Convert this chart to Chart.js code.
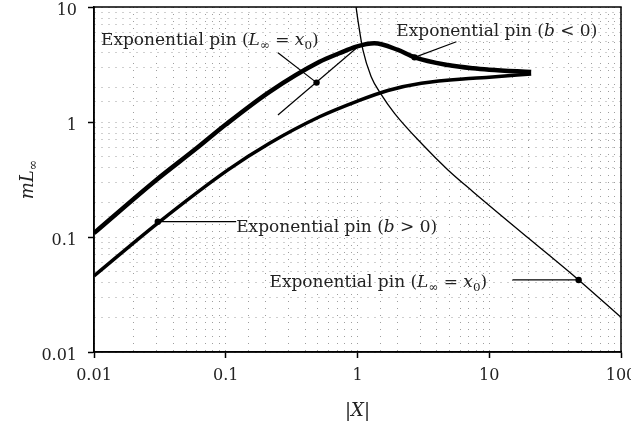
<!DOCTYPE html>
<html>
<head>
<meta charset="utf-8">
<script src="https://cdn.jsdelivr.net/npm/chart.js@4.4.1/dist/chart.umd.min.js"></script>
<style>
  html, body { margin: 0; padding: 0; background: #fff; }
  #wrap { width: 631px; height: 423px; }
</style>
</head>
<body>
<div id="wrap"><canvas id="chart"></canvas></div>
<script>
// upper branch (exponential pin, L_inf = x0 then b < 0)
const upperX = [0.01, 0.0297, 0.06, 0.1, 0.215, 0.515, 0.727, 0.98, 1.34, 2.03, 2.71, 4.86, 7.52, 10, 20.8];
const upperY = [0.108, 0.313, 0.59, 0.95, 1.83, 3.34, 3.96, 4.52, 4.83, 4.23, 3.65, 3.13, 2.93, 2.85, 2.72];

// lower branch (exponential pin, b > 0)
const lowerX = [0.01, 0.0305, 0.104, 0.215, 0.515, 1.0, 1.7, 3.05, 7.52, 10, 20.8];
const lowerY = [0.0458, 0.132, 0.383, 0.653, 1.11, 1.52, 1.88, 2.17, 2.40, 2.45, 2.62];

// thin curve (exponential pin, L_inf = x0, large |X|)
const thinX = [0.975, 1.007, 1.099, 1.27, 1.52, 1.91, 3.05, 4.86, 7.52, 20, 47.7, 100];
const thinY = [10, 7.7, 4.23, 2.48, 1.72, 1.19, 0.653, 0.383, 0.248, 0.097, 0.0423, 0.020];

// straight segment through the L_inf = x0 marker
const segX = [0.249, 1.03];
const segY = [1.15, 4.6];

const xTicks = [0.01, 0.1, 1, 10, 100];
const yTicks = [0.01, 0.1, 1, 10];

const FONT = '"DejaVu Serif", serif';

const pLinf = [['Exponential pin ('], ['L', 'i'], ['\u221E', 'sub'], [' = '], ['x', 'i'], ['0', 'sub'], [')']];
const pBneg = [['Exponential pin ('], ['b', 'i'], [' < 0)']];
const pBpos = [['Exponential pin ('], ['b', 'i'], [' > 0)']];

// label anchor (left, baseline) in data units, leader from -> dot
const notes = [
  { tx: 0.0113, ty: 4.63, parts: pLinf, from: [0.249, 4.0], dot: [0.489, 2.2] },
  { tx: 1.97, ty: 5.63, parts: pBneg, from: [5.63, 4.99], dot: [2.71, 3.65] },
  { tx: 0.12, ty: 0.1116, parts: pBpos, from: [0.12, 0.136], dot: [0.0305, 0.136] },
  { tx: 0.2148, ty: 0.0365, parts: pLinf, from: [15, 0.0423], dot: [47.7, 0.0423] }
];

function pts(xs, ys) {
  return xs.map((x, i) => ({ x: x, y: ys[i] }));
}

function curve(xs, ys, width) {
  return {
    data: pts(xs, ys),
    borderColor: '#000',
    borderWidth: width,
    pointRadius: 0,
    cubicInterpolationMode: 'monotone',
    fill: false
  };
}

const datasets = [
  curve(upperX, upperY, 4.5),
  curve(lowerX, lowerY, 3.5),
  curve(thinX, thinY, 1.3),
  {
    data: pts(segX, segY),
    borderColor: '#000',
    borderWidth: 1.2,
    pointRadius: 0
  }
];
notes.forEach(n => {
  datasets.push({
    data: [{ x: n.from[0], y: n.from[1] }, { x: n.dot[0], y: n.dot[1] }],
    borderColor: '#000',
    backgroundColor: '#000',
    borderWidth: 1.2,
    pointRadius: [0, 3.2],
    pointBorderWidth: 0
  });
});

function isMajor(v) {
  const l = Math.log10(v);
  return Math.abs(l - Math.round(l)) < 1e-6;
}

function fmt(v) {
  return Number(v.toPrecision(3)).toString();
}

function partsWidth(ctx, parts, size) {
  let w = 0;
  parts.forEach(p => {
    const fs = p[1] === 'sub' ? size * 0.7 : size;
    ctx.font = (p[1] === 'i' ? 'italic ' : '') + fs + 'px ' + FONT;
    w += ctx.measureText(p[0]).width;
  });
  return w;
}

function drawParts(ctx, parts, x, y, size) {
  ctx.textAlign = 'left';
  ctx.textBaseline = 'alphabetic';
  parts.forEach(p => {
    const sub = p[1] === 'sub';
    const fs = sub ? size * 0.7 : size;
    ctx.font = (p[1] === 'i' ? 'italic ' : '') + fs + 'px ' + FONT;
    ctx.fillText(p[0], x, sub ? y + size * 0.22 : y);
    x += ctx.measureText(p[0]).width;
  });
}

const textPlugin = {
  id: 'texts',
  afterDatasetsDraw(chart) {
    const ctx = chart.ctx;
    const xs = chart.scales.x, ys = chart.scales.y;
    const a = chart.chartArea;
    ctx.save();
    ctx.fillStyle = '#222';
    notes.forEach(n => {
      drawParts(ctx, n.parts, xs.getPixelForValue(n.tx), ys.getPixelForValue(n.ty), 17);
    });
    // frame
    ctx.strokeStyle = '#000';
    ctx.lineWidth = 1.5;
    ctx.strokeRect(a.left, a.top, a.right - a.left, a.bottom - a.top);
    // axis titles
    const xt = [['|'], ['X', 'i'], ['|']];
    const xw = partsWidth(ctx, xt, 18);
    drawParts(ctx, xt, (a.left + a.right) / 2 - xw / 2, 416, 18);
    const yt = [['m', 'i'], ['L', 'i'], ['\u221E', 'sub']];
    const yw = partsWidth(ctx, yt, 18);
    ctx.translate(33, (a.top + a.bottom) / 2);
    ctx.rotate(-Math.PI / 2);
    drawParts(ctx, yt, -yw / 2, 0, 18);
    ctx.restore();
  }
};

function gridOpts() {
  return {
    color: 'rgba(0,0,0,0.38)',
    lineWidth: 1,
    drawTicks: true,
    tickLength: 6,
    tickBorderDash: [],
    tickWidth: 1.5,
    tickColor: c => (c.tick && isMajor(c.tick.value)) ? '#000' : 'rgba(0,0,0,0)'
  };
}

new Chart(document.getElementById('chart'), {
  type: 'line',
  data: { datasets: datasets },
  options: {
    responsive: true,
    maintainAspectRatio: false,
    animation: false,
    layout: { padding: { left: 0, top: 7, right: 10, bottom: 0 } },
    plugins: {
      legend: { display: false },
      tooltip: { enabled: false }
    },
    scales: {
      x: {
        type: 'logarithmic',
        min: 0.01,
        max: 100,
        grid: gridOpts(),
        border: { color: '#000', width: 1.5, dash: [1, 6] },
        ticks: {
          autoSkip: false,
          maxRotation: 0,
          padding: 8,
          color: '#222',
          font: { family: FONT, size: 16 },
          callback: v => (xTicks.some(t => Math.abs(t - v) / t < 1e-6) ? fmt(v) : '')
        },
        afterFit: s => { s.height = 71; s.paddingLeft = 0; s.paddingRight = 0; }
      },
      y: {
        type: 'logarithmic',
        min: 0.01,
        max: 10,
        grid: gridOpts(),
        border: { color: '#000', width: 1.5, dash: [1, 6] },
        ticks: {
          autoSkip: false,
          padding: 11,
          labelOffset: 4,
          color: '#222',
          font: { family: FONT, size: 16 },
          callback: v => (yTicks.some(t => Math.abs(t - v) / t < 1e-6) ? fmt(v) : '')
        },
        afterFit: s => { s.width = 94; s.paddingTop = 0; s.paddingBottom = 0; }
      }
    }
  },
  plugins: [textPlugin]
});
</script>
</body>
</html>
